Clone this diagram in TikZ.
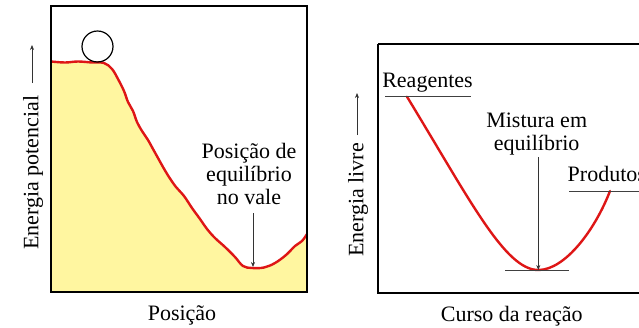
\documentclass[tikz,border=0pt]{standalone}
\usepackage{fontspec}
\setmainfont{Liberation Serif}
\usetikzlibrary{arrows.meta}
\definecolor{hillfill}{RGB}{255,246,160}
\definecolor{curvered}{RGB}{222,22,22}
\begin{document}
\begin{tikzpicture}[x=1pt,y=-1pt,
  lbl/.style={inner sep=0pt,font=\fontsize{22}{23}\selectfont},
  frame/.style={draw=black,line width=2pt},
  energy/.style={draw=curvered,line width=2.4pt,line join=round},
  thin/.style={draw=black!75,line width=0.8pt},
  pointer/.style={draw=black!80,line width=0.7pt,-{Stealth[length=5pt,width=4pt]}}]
\useasboundingbox (0,0) rectangle (639,327);
\clip (0,0) rectangle (639,327);

% ---- left panel: ball on a hill ----
\def\hill{(51,61.5) (65,62.5) (78,61.5) (92,62.5) (104,63) (112,69) (118,79) (124,91)
 (128,102) (133,111) (137,122) (142,131) (148,140) (153,149) (158,158) (163,167) (169,177)
 (176,187) (184,196) (192,208) (200,219) (207,229) (215,238) (225,247) (235,257) (243,266)
 (252,268) (264,267.5) (275,263) (286,255) (295,246) (302,241) (307,234)}
\fill[hillfill] plot[smooth,tension=0.6] coordinates {\hill} -- (307,292) -- (51,292) -- cycle;
\draw[energy] plot[smooth,tension=0.6] coordinates {\hill};
\draw[frame] (51,6) rectangle (307,292);
\node[draw=black,line width=1.2pt,circle,minimum size=31pt,inner sep=0pt] (ball) at (97.5,46.5) {};

\node[lbl,align=center,anchor=north] (valley) at (249,143) {Posição de\\equilíbrio\\no vale};
\coordinate (valleybottom) at (253,267);
\draw[pointer] (253,213) -- (valleybottom);

\node[lbl,anchor=base] (posx) at (182,320.5) {Posição};
\node[lbl,rotate=90,anchor=base west] (posy) at (38.3,250) {Energia potencial};
\coordinate (posyA) at (32,83);
\coordinate (posyB) at (32,45);
\draw[pointer] (posyA) -- (posyB);

% ---- right panel: free energy along the reaction ----
\draw[frame] (378,44) -- (645,44);
\draw[frame] (378,44) -- (378,293) -- (645,293);

\coordinate (R) at (407,96.7);
\coordinate (M) at (538.3,270);
\coordinate (P) at (610,191);
\draw[energy,line cap=round] (R) .. controls (470,200) and (505,270) .. (M)
  .. controls (565,270) and (595,230) .. (P);

\draw[thin] (385,96.7) -- (471,96.7);
\draw[thin] (505,270.6) -- (569,270.6);
\draw[thin] (569,191) -- (645,191);

\node[lbl,anchor=base] (reag) at (427.5,87.5) {Reagentes};
\node[lbl,anchor=base west] (prod) at (567.5,181.7) {Produtos};
\node[lbl,align=center,anchor=north] (mix) at (536.7,112.5) {Mistura em\\equilíbrio};
\draw[pointer] (538.3,157) -- (M);

\node[lbl,anchor=base] (curso) at (511.7,321) {Curso da reação};
\node[lbl,rotate=90,anchor=base west] (livre) at (363.3,257) {Energia livre};
\coordinate (livreA) at (357,135);
\coordinate (livreB) at (357,93);
\draw[pointer] (livreA) -- (livreB);
\end{tikzpicture}
\end{document}
